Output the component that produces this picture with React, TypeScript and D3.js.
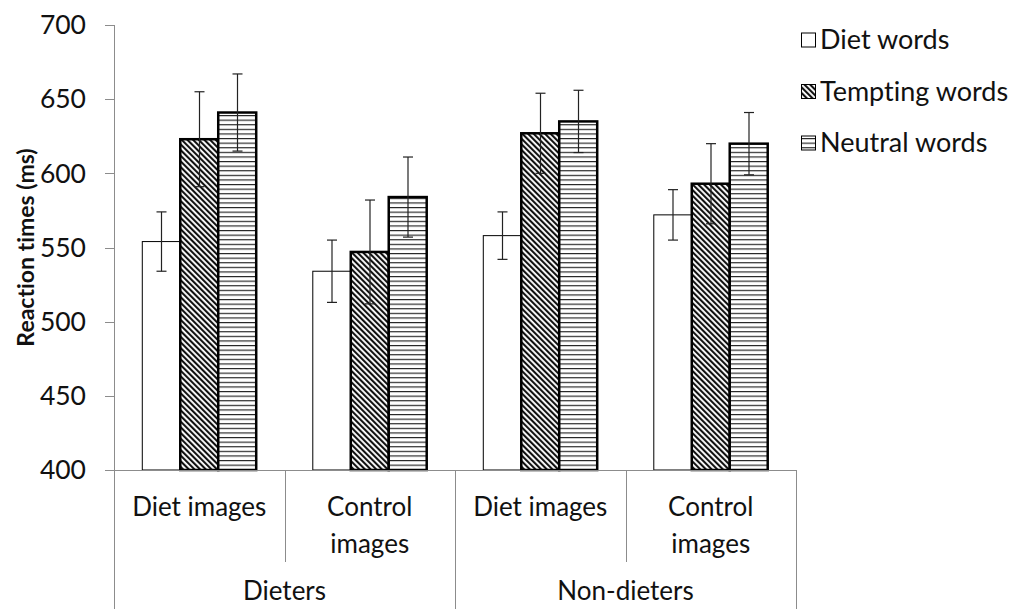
import React from "react";
import * as d3 from "d3";

// x categories (two levels)
const CONDITIONS = ["Diet images", "Control images", "Diet images", "Control images"];
const GROUPS = ["Dieters", "Non-dieters"];
const SERIES = ["Diet words", "Tempting words", "Neutral words"];

// means and error bars
const DIET_WORDS = [554, 534, 558, 572];
const DIET_WORDS_ERR = [20, 21, 16, 17];
const TEMPTING_WORDS = [623, 547, 627, 593];
const TEMPTING_WORDS_ERR = [32, 35, 27, 27];
const NEUTRAL_WORDS = [641, 584, 635, 620];
const NEUTRAL_WORDS_ERR = [26, 27, 21, 21];

const Y_TICKS = [400, 450, 500, 550, 600, 650, 700];

const W = 1027;
const H = 609;
const FONT = "Lato, 'Open Sans', sans-serif";
const AXIS = "#8c8c8c";

export default function App() {
  const values = [DIET_WORDS, TEMPTING_WORDS, NEUTRAL_WORDS];
  const errors = [DIET_WORDS_ERR, TEMPTING_WORDS_ERR, NEUTRAL_WORDS_ERR];
  const fills = ["#ffffff", "url(#hatchDiag)", "url(#hatchHoriz)"];

  const y = d3.scaleLinear().domain([400, 700]).range([470, 25]);
  const x0 = d3.scaleBand<number>().domain(d3.range(CONDITIONS.length)).range([114, 796]);
  const x1 = d3.scaleBand<number>().domain(d3.range(SERIES.length)).range([0, x0.bandwidth()]).paddingOuter(0.745);
  const xg = d3.scaleBand<number>().domain(d3.range(GROUPS.length)).range([114, 796]);

  const base = y(400);

  return (
    <svg width={W} height={H} style={{ position: "absolute", left: 0, top: 0, background: "#fff", fontVariantLigatures: "none" }} fontFamily={FONT}>
      <defs>
        <pattern id="hatchDiag" width="4" height="4" patternUnits="userSpaceOnUse" patternTransform="rotate(-45)">
          <rect width="4" height="4" fill="#fff" />
          <line x1="1" y1="0" x2="1" y2="4" stroke="#111" strokeWidth="2.2" />
        </pattern>
        <pattern id="hatchHoriz" width="8" height="4.6" patternUnits="userSpaceOnUse">
          <rect width="8" height="4.6" fill="#fff" />
          <line x1="0" y1="0.5" x2="8" y2="0.5" stroke="#222" strokeWidth="1.3" />
        </pattern>
      </defs>

      {/* y axis */}
      <line x1={114.5} x2={114.5} y1={y(700)} y2={H} stroke={AXIS} />
      {Y_TICKS.map((t) => (
        <g key={t}>
          <line x1={105} x2={114.5} y1={Math.round(y(t)) + 0.5} y2={Math.round(y(t)) + 0.5} stroke={AXIS} />
          <text x={86} y={y(t)} dy="0.35em" textAnchor="end" fontSize={26.5} fill="#111">{t}</text>
        </g>
      ))}
      <text transform={`translate(34,${(y(400) + y(700)) / 2}) rotate(-90)`} textAnchor="middle" fontSize={23} fontWeight="bold" fill="#111">
        Reaction times (ms)
      </text>

      {/* bars */}
      {CONDITIONS.map((c, i) => (
        <g key={i} transform={`translate(${x0(i)},0)`}>
          {SERIES.map((s, j) => {
            const v = values[j][i];
            const bx = x1(j)!;
            const bw = x1.bandwidth();
            return (
              <rect key={s} x={bx} y={y(v)} width={bw} height={base - y(v)} fill={fills[j]}
                stroke="#000" strokeWidth={j === 0 ? 1 : 2.5} />
            );
          })}
          {SERIES.map((s, j) => {
            const v = values[j][i];
            const e = errors[j][i];
            const cx = Math.round(x1(j)! + x1.bandwidth() / 2) + 0.5;
            return (
              <g key={s} stroke="#222" strokeWidth={1.2}>
                <line x1={cx} x2={cx} y1={y(v + e)} y2={y(v - e)} />
                <line x1={cx - 5} x2={cx + 5} y1={y(v + e)} y2={y(v + e)} />
                <line x1={cx - 5} x2={cx + 5} y1={y(v - e)} y2={y(v - e)} />
              </g>
            );
          })}
        </g>
      ))}

      {/* x axis */}
      <line x1={105} x2={796.5} y1={base + 0.5} y2={base + 0.5} stroke={AXIS} />
      {CONDITIONS.map((c, i) => {
        const left = x0(i)!;
        const isGroupEdge = i % 2 === 0;
        const cx = left + x0.bandwidth() / 2;
        const words = c.split(" ");
        const twoLines = c.startsWith("Control");
        return (
          <g key={i}>
            <line x1={Math.round(left) + 0.5} x2={Math.round(left) + 0.5} y1={base} y2={isGroupEdge ? H : 562} stroke={AXIS} />
            {twoLines ? (
              <text x={cx} textAnchor="middle" fontSize={26} fill="#111">
                <tspan x={cx} y={516}>{words[0]}</tspan>
                <tspan x={cx} y={553}>{words[1]}</tspan>
              </text>
            ) : (
              <text x={cx} y={516} textAnchor="middle" fontSize={26} fill="#111">{c}</text>
            )}
          </g>
        );
      })}
      <line x1={796.5} x2={796.5} y1={base} y2={H} stroke={AXIS} />
      {GROUPS.map((g, k) => (
        <text key={g} x={xg(k)! + xg.bandwidth() / 2} y={600} textAnchor="middle" fontSize={26} fill="#111">{g}</text>
      ))}

      {/* legend */}
      {SERIES.map((s, j) => {
        const ly = 40 + j * 51.5;
        return (
          <g key={s}>
            <rect x={801.5} y={ly - 7} width={14} height={14} fill={fills[j]} stroke="#000" strokeWidth={1} />
            <text x={820} y={ly} dy="0.35em" fontSize={27} fill="#111">{s}</text>
          </g>
        );
      })}
    </svg>
  );
}
